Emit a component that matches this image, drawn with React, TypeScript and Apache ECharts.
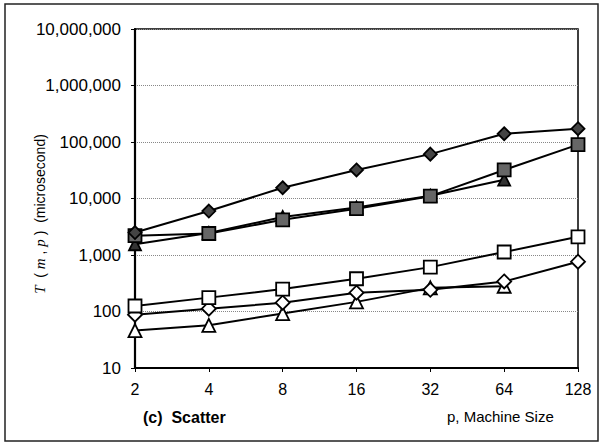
import React, { useEffect, useRef } from "react";
import * as echarts from "echarts";

const categories = ["2", "4", "8", "16", "32", "64", "128"];
const filledDiamond = [2500, 6000, 15500, 32000, 61000, 140000, 172000];
const filledSquare = [2200, 2400, 4200, 6600, 11000, 32000, 90000];
const filledTriangle = [1550, 2450, 4700, 6900, 11200, 21500, null];
const openSquare = [125, 176, 249, 380, 610, 1130, 2100];
const openDiamond = [88, 112, 143, 215, 242, 340, 760];
const openTriangle = [46, 57, 92, 148, 262, 280, null];
const yTicks = [10, 100, 1000, 10000, 100000, 1000000, 10000000];

export default function App() {
  const ref = useRef<HTMLDivElement>(null);
  useEffect(() => {
    const chart = echarts.init(ref.current!, null, { renderer: "svg" });
    const mk = (name: string, data: (number | null)[], symbol: string, fill: string, size: number, z: number) => ({
      name,
      type: "line",
      data,
      symbol,
      symbolSize: size,
      showSymbol: true,
      z,
      lineStyle: { color: "#000", width: 2 },
      itemStyle: { color: fill, borderColor: "#000", borderWidth: 1.8 },
    });
    chart.setOption({
      animation: false,
      backgroundColor: "#fff",
      grid: {
        left: 135,
        right: 26,
        top: 29,
        bottom: 80,
        show: true,
        borderColor: "#000",
        borderWidth: 1.5,
      },
      xAxis: {
        type: "category",
        data: categories,
        boundaryGap: false,
        axisLine: { lineStyle: { color: "#000", width: 2.2 } },
        axisTick: { show: true, length: 4, alignWithLabel: true, lineStyle: { color: "#000" } },
        axisLabel: {
          color: "#000",
          fontSize: 16,
          fontFamily: "Liberation Sans, Arial",
          margin: 13,
        },
        splitLine: { show: false },
      },
      yAxis: {
        type: "log",
        logBase: 10,
        min: yTicks[0],
        max: yTicks[yTicks.length - 1],
        axisLine: { show: true, lineStyle: { color: "#000", width: 2.2 } },
        axisTick: { show: true, length: 4, lineStyle: { color: "#000" } },
        axisLabel: {
          color: "#000",
          fontSize: 17,
          fontFamily: "Liberation Sans, Arial",
          margin: 14,
          formatter: (v: number) => Math.round(v).toLocaleString("en-US"),
        },
        splitLine: { show: true, lineStyle: { color: "#888", type: "dotted", width: 1 } },
      },
      graphic: [
        {
          type: "rect",
          shape: { x: 5, y: 4, width: 593, height: 437 },
          style: { fill: "none", stroke: "#222", lineWidth: 1.5 },
          silent: true,
        },
        {
          type: "text",
          x: 40,
          y: 214,
          rotation: Math.PI / 2,
          style: {
            text: "{i|T}  ( {i|m} , {i|p} )  (microsecond)",
            fill: "#000",
            fontSize: 14,
            fontFamily: "Liberation Sans, Arial",
            align: "center",
            verticalAlign: "middle",
            rich: {
              i: { fontStyle: "italic", fontSize: 15, fontFamily: "Liberation Serif, Times New Roman" },
            },
          },
        },
        {
          type: "text",
          x: 143,
          y: 417,
          style: {
            text: "(c)  Scatter",
            fill: "#000",
            fontSize: 16,
            fontWeight: "bold",
            fontFamily: "Liberation Sans, Arial",
            verticalAlign: "middle",
          },
        },
        {
          type: "text",
          x: 447,
          y: 416,
          style: {
            text: "p, Machine Size",
            fill: "#000",
            fontSize: 15,
            fontFamily: "Liberation Sans, Arial",
            verticalAlign: "middle",
          },
        },
      ],
      series: [
        mk("openTriangle", openTriangle, "triangle", "#fff", 13, 2),
        mk("openDiamond", openDiamond, "diamond", "#fff", 14, 3),
        mk("openSquare", openSquare, "rect", "#fff", 13, 4),
        mk("filledTriangle", filledTriangle, "triangle", "#333", 12, 5),
        mk("filledSquare", filledSquare, "rect", "#666", 13, 6),
        mk("filledDiamond", filledDiamond, "diamond", "#444", 13, 7),
      ],
    });
    return () => chart.dispose();
  }, []);
  return (
    <div
      ref={ref}
      style={{ position: "fixed", left: 0, top: 0, width: 604, height: 448 }}
    />
  );
}
